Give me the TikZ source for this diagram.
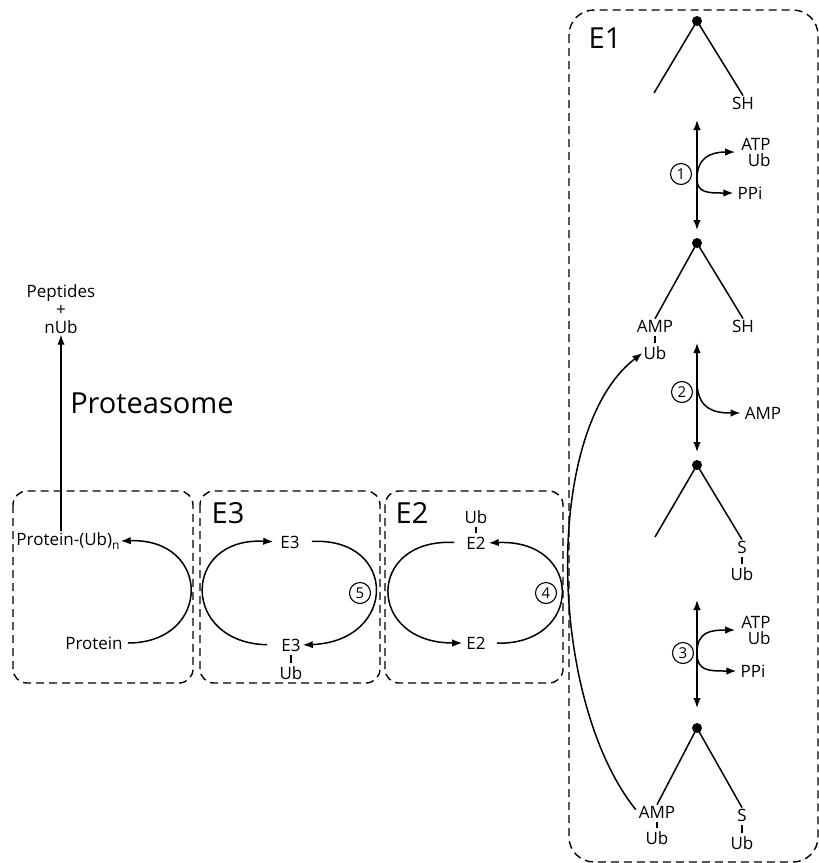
\documentclass[tikz,border=0pt]{standalone}
\usepackage{fontspec}
\setmainfont{Open Sans}
\usetikzlibrary{arrows.meta,positioning}

\begin{document}
\begin{tikzpicture}[x=1pt, y=-1pt,
  lbl/.style={inner sep=1pt, font=\fontsize{17}{16}\selectfont},
  biglbl/.style={inner sep=0pt, font=\fontsize{29}{32}\selectfont},
  zone/.style={draw, line width=1.4pt, dash pattern=on 8pt off 5pt, rounded corners=14pt},
  arrow/.style={-{Latex[length=10pt,width=7.5pt]}, line width=1.5pt},
  both/.style={{Latex[length=10pt,width=7.5pt]}-{Latex[length=10pt,width=7.5pt]}, line width=1.5pt},
  leg/.style={line width=1.5pt},
  tick/.style={line width=1.1pt, shorten <=2.5pt, shorten >=2.5pt},
  joint/.style={circle, fill, inner sep=0pt, minimum size=10pt},
  stepnum/.style={circle, draw, line width=1.1pt, inner sep=0pt, minimum size=21pt, font=\fontsize{15}{15}\selectfont}
]
\useasboundingbox (0,0) rectangle (819,863);

% dashed enzyme zones
\draw[zone] (13,491) rectangle (193,683);
\draw[zone] (200,491) rectangle (380,683);
\draw[zone] (385,491) rectangle (563,683);
\draw[zone, rounded corners=25pt] (569,10) rectangle (818,862);

\node[biglbl] (lE1) at (605,38) {E1};
\node[biglbl] (lE3) at (228,513) {E3};
\node[biglbl] (lE2) at (412,513) {E2};
\node[biglbl] (lprot) at (152,403) {Proteasome};

% substrate and proteasome
\node[lbl] (protub) at (68,541) {Protein-(Ub)\raisebox{-4pt}{\fontsize{12}{12}\selectfont n}};
\node[lbl] (prot) at (94,643) {Protein};
\node[lbl, align=center, font=\fontsize{17}{18}\selectfont] (prod) at (61,309) {Peptides\\+\\nUb};
\draw[arrow] (protub.north -| prod.south) -- (prod.south);
\draw[arrow, shorten <=4pt] (prot.east) .. controls (212,643) and (212,538) .. (protub.east);

% E3 cycle
\node[lbl] (e3a) at (290,542) {E3};
\node[lbl] (e3b) at (291,645) {E3};
\node[lbl] (ub3) at (291,673) {Ub};
\draw[tick] (e3b) -- (ub3);
\draw[arrow, shorten <=13pt, shorten >=6pt] (e3b.west) .. controls (181,643) and (181,537) .. (e3a.west);
\draw[arrow, shorten <=11pt, shorten >=1pt] (e3a.east) .. controls (398,537) and (398,641) .. (e3b.east);
\node[stepnum] (n5) at (360,593) {5};

% E2 cycle
\node[lbl] (ub2) at (476,517) {Ub};
\node[lbl] (e2a) at (476,543) {E2};
\node[lbl] (e2b) at (476,643) {E2};
\draw[tick] (ub2) -- (e2a);
\draw[arrow, shorten <=11pt, shorten >=3pt] (e2a.west) .. controls (366,538) and (366,643) .. (e2b.west);
\draw[arrow, shorten <=10pt, shorten >=2pt] (e2b.east) .. controls (584,645) and (584,539) .. (e2a.east);
\node[stepnum] (n4) at (546,593) {4};

% E1 states
\node[joint] (d1) at (697,21) {};
\coordinate (l1) at (654,93);
\node[lbl] (sh1) at (743,103) {SH};
\draw[leg] (d1.center) -- (l1);
\draw[leg] (d1.center) -- (sh1.north);

\node[joint] (d2) at (697,243) {};
\node[lbl] (amp2) at (655,326) {AMP};
\node[lbl] (ubA2) at (655,353) {Ub};
\node[lbl] (sh2) at (743,326) {SH};
\draw[leg] (d2.center) -- (amp2.north);
\draw[leg] (d2.center) -- (sh2.north);
\draw[tick] (amp2) -- (ubA2);

\node[joint] (d3) at (697,465) {};
\coordinate (l3) at (655,537);
\node[lbl] (s3) at (742,547) {S};
\node[lbl] (ubS3) at (742,574) {Ub};
\draw[leg] (d3.center) -- (l3);
\draw[leg] (d3.center) -- (s3.north);
\draw[tick] (s3) -- (ubS3);

\node[joint] (d4) at (697,728) {};
\node[lbl] (amp4) at (657,812) {AMP};
\node[lbl] (ubA4) at (657,838) {Ub};
\node[lbl] (s4) at (742,815) {S};
\node[lbl] (ubS4) at (742,843) {Ub};
\draw[leg] (d4.center) -- (amp4.north);
\draw[leg] (d4.center) -- (s4.north);
\draw[tick] (amp4) -- (ubA4);
\draw[tick] (s4) -- (ubS4);

% E1 steps
\coordinate (v1t) at (697,120);
\coordinate (v1b) at (697,230);
\coordinate (b1) at (697,179);
\draw[both] (v1t) -- (v1b);
\node[stepnum] (n1) at (681,174) {1};
\node[lbl, align=right] (in1) at (756,152) {ATP\\Ub};
\node[lbl] (pp1) at (750,193) {PPi};
\draw[arrow, shorten >=5pt] (b1) .. controls (697,158) and (710,152) .. (in1.west);
\draw[arrow, shorten >=3pt] (b1) .. controls (697,193) and (708,193) .. (pp1.west);

\coordinate (v2t) at (697,343);
\coordinate (v2b) at (697,452);
\coordinate (b2) at (697,385);
\draw[both] (v2t) -- (v2b);
\node[stepnum] (n2) at (682,392) {2};
\node[lbl] (ampout) at (763,413) {AMP};
\draw[arrow, shorten >=3pt] (b2) .. controls (699,408) and (712,413) .. (ampout.west);

\coordinate (v3t) at (697,600);
\coordinate (v3b) at (697,708);
\coordinate (b3) at (697,653);
\draw[both] (v3t) -- (v3b);
\node[stepnum] (n3) at (683,653) {3};
\node[lbl, align=right] (in3) at (756,630) {ATP\\Ub};
\node[lbl] (pp3) at (753,671) {PPi};
\draw[arrow, shorten >=5pt] (b3) .. controls (697,632) and (710,630) .. (in3.west);
\draw[arrow, shorten >=3pt] (b3) .. controls (697,671) and (708,671) .. (pp3.west);

% Ub handed from E1 back to AMP
\draw[arrow, shorten <=3pt] (amp4.west) .. controls (548,700) and (542,430) .. (ubA2.west);
\end{tikzpicture}
\end{document}
